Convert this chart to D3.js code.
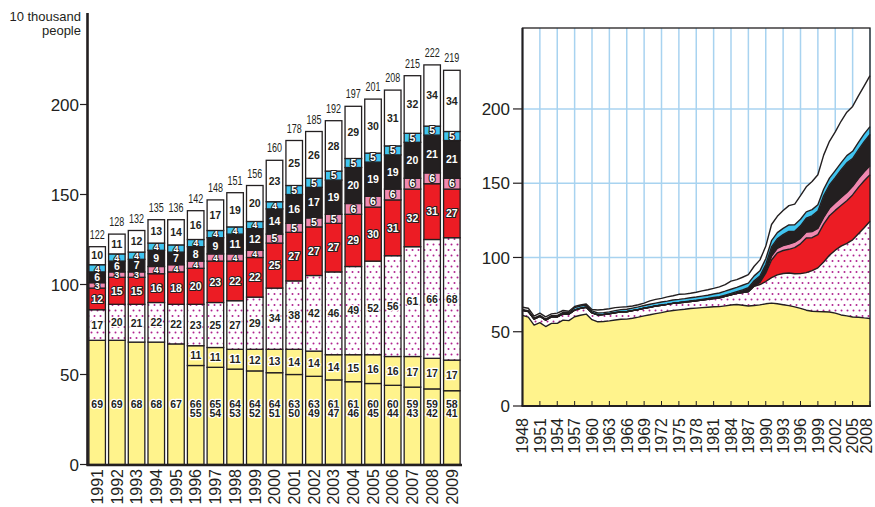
<!DOCTYPE html>
<html><head><meta charset="utf-8">
<script src="https://cdn.jsdelivr.net/npm/d3@7"></script>
<style>body{margin:0;background:#fff}svg{display:block}</style>
</head><body>
<svg id="c" width="875" height="507"></svg>
<script>
// ---------- Left chart data (10 thousand people) ----------
const barYears = [1991,1992,1993,1994,1995,1996,1997,1998,1999,2000,2001,2002,2003,2004,2005,2006,2007,2008,2009];
const korLower = [69,69,68,68,67,55,54,53,52,51,50,49,47,46,45,44,43,42,41];
const korUpper = [0,0,0,0,0,11,11,11,12,13,14,14,14,15,16,16,17,17,17];
const korTotal = [69,69,68,68,67,66,65,64,64,64,63,63,61,61,60,60,59,59,58];
const chn = [17,20,21,22,22,23,25,27,29,34,38,42,46,49,52,56,61,66,68];
const bra = [12,15,15,16,18,20,23,22,22,25,27,27,27,29,30,31,32,31,27];
const per = [3,3,3,4,4,4,4,4,4,5,5,5,5,6,6,6,6,6,6];
const phl = [6,6,7,9,7,8,9,11,12,14,16,17,19,20,19,19,20,21,21];
const usa = [4,4,4,4,4,4,4,4,4,4,5,5,5,5,5,5,5,5,5];
const oth = [10,11,12,13,14,16,17,19,20,23,25,26,28,29,30,31,32,34,34];
const totalLabels = [122,128,132,135,136,142,148,151,156,160,178,185,192,197,201,208,215,222,219];
const yTicksL = [0,50,100,150,200];

// ---------- Right chart data (10 thousand people) ----------
const yearsR = [1948,1949,1950,1951,1952,1953,1954,1955,1956,1957,1958,1959,1960,1961,1962,1963,1964,1965,1966,1967,1968,1969,1970,1971,1972,1973,1974,1975,1976,1977,1978,1979,1980,1981,1982,1983,1984,1985,1986,1987,1988,1989,1990,1991,1992,1993,1994,1995,1996,1997,1998,1999,2000,2001,2002,2003,2004,2005,2006,2007,2008];
const koreaR = [61.0,59.8,54.5,56.1,53.5,55.6,55.6,57.8,57.5,60.1,61.1,61.9,58.1,56.7,56.9,57.3,57.9,58.4,58.5,59.1,59.8,60.7,61.4,62.2,62.9,63.7,64.3,64.7,65.1,65.6,65.9,66.2,66.5,66.8,66.9,67.4,68.0,68.3,67.8,67.3,67.7,68.1,68.8,69.3,68.8,68.2,67.6,66.7,65.7,64.5,63.8,63.6,63.5,63.3,62.5,61.3,60.7,59.9,59.8,59.3,58.9];
const chinaR = [3.5,3.8,4.0,4.3,4.3,4.4,4.4,4.3,4.4,4.5,4.6,4.6,4.6,4.6,4.7,4.8,4.9,5.0,5.0,5.1,5.1,5.1,5.1,5.1,4.9,4.7,4.8,4.8,4.8,4.8,4.9,5.1,5.3,5.6,5.9,6.4,6.8,7.5,8.5,9.6,12.9,13.7,15.0,17.1,19.5,21.0,21.9,22.3,23.4,25.3,27.3,29.4,33.5,38.2,42.4,46.3,48.8,52.0,56.1,60.7,65.5];
const brazilR = [0,0,0,0,0,0,0,0,0,0,0,0,0,0,0,0,0,0,0,0,0,0,0,0,0,0,0,0,0,0,0,0,0,0,0,0,0,0,0,0.2,0.4,1.4,5.6,11.9,14.8,15.5,16.0,17.6,20.1,23.3,22.2,22.4,25.4,26.6,26.8,27.4,28.7,30.2,31.3,31.7,31.3];
const peruR = [0,0,0,0,0,0,0,0,0,0,0,0,0,0,0,0,0,0,0,0,0,0,0,0,0,0,0,0,0,0,0,0,0,0,0,0,0,0,0,0,0.1,0.4,1.0,2.6,3.1,3.3,3.5,3.7,3.7,4.0,4.1,4.2,4.6,5.0,5.1,5.4,5.6,5.8,5.9,6.0,6.0];
const philR = [0.1,0.1,0.1,0.1,0.1,0.1,0.1,0.1,0.1,0.1,0.1,0.1,0.1,0.1,0.1,0.1,0.1,0.1,0.1,0.1,0.1,0.1,0.1,0.1,0.2,0.2,0.2,0.2,0.3,0.3,0.4,0.5,0.6,0.7,0.8,0.9,1.0,1.2,1.9,2.5,3.2,3.9,4.9,6.2,6.3,7.4,8.6,7.4,8.4,9.3,10.6,11.6,14.5,15.7,16.9,18.5,19.9,18.7,19.3,20.3,21.1];
const usaR = [0.3,0.4,0.5,0.6,0.6,0.7,0.8,0.9,1.0,1.5,1.5,1.3,1.2,1.2,1.2,1.2,1.3,1.4,1.5,1.6,1.7,1.8,1.9,1.9,2.0,2.0,2.1,2.1,2.1,2.2,2.2,2.2,2.2,2.3,2.5,2.6,2.8,2.9,3.1,3.1,3.3,3.5,3.8,4.2,4.2,4.2,4.3,4.3,4.4,4.3,4.2,4.3,4.4,4.6,4.8,4.8,4.9,4.9,5.1,5.2,5.3];
const otherR = [1.6,1.7,1.4,1.4,1.5,1.2,1.6,1.2,0.8,0.8,0.7,0.8,1.0,2.0,2.1,2.1,2.0,1.7,1.7,1.4,1.5,1.6,2.3,2.5,2.5,2.9,2.8,3.4,3.0,3.0,3.2,3.5,3.7,3.8,4.1,4.4,5.5,5.2,5.4,5.7,6.5,7.4,8.4,10.9,11.0,12.0,13.0,13.9,15.9,16.9,19.0,20.2,23.0,24.8,26.1,28.0,29.2,30.2,31.3,32.3,34.3];
const xTicksR = [1948,1951,1954,1957,1960,1963,1966,1969,1972,1975,1978,1981,1984,1987,1990,1993,1996,1999,2002,2005,2008];
const yTicksR = [0,50,100,150,200];

// ---------- styles ----------
const INK = "#231f20";
const fills = {
  korLower:"#fff38c", korUpper:"#fff38c", kor:"#fff38c",
  chn:"url(#dots)", bra:"#ec1c24", per:"#f088b0", phl:"#231f20", usa:"#40c4f0", oth:"#ffffff"
};
const darkKeys = new Set(["bra","per","phl","usa"]);
const FONT = "'Liberation Sans', Arial, Helvetica, sans-serif";

const svg = d3.select("#c");
const defs = svg.append("defs");
const pat = defs.append("pattern").attr("id","dots").attr("width",6).attr("height",11)
  .attr("patternUnits","userSpaceOnUse");
pat.append("rect").attr("width",6).attr("height",11).attr("fill","#fff");
pat.append("circle").attr("cx",1.5).attr("cy",2.5).attr("r",1).attr("fill","#b0238f");
pat.append("circle").attr("cx",4.5).attr("cy",8).attr("r",1).attr("fill","#b0238f");

// ================= LEFT CHART =================
const xL = d3.scaleBand().domain(barYears).range([87.5, 461.5]).paddingInner(0.16).paddingOuter(0.07);
const yL = d3.scaleLinear().domain([0, 250]).range([464.5, 14.5]);

const rowsL = barYears.map((yr,i)=>({year:yr, korLower:korLower[i], korUpper:korUpper[i], chn:chn[i], bra:bra[i], per:per[i], phl:phl[i], usa:usa[i], oth:oth[i], i}));
const keysL = ["korLower","korUpper","chn","bra","per","phl","usa","oth"];
const stackL = d3.stack().keys(keysL)(rowsL);

const gL = svg.append("g");
stackL.forEach(layer=>{
  gL.selectAll(null).data(layer.filter(d=>d[1]-d[0]>0)).join("rect")
    .attr("x", d=>xL(d.data.year)).attr("width", xL.bandwidth())
    .attr("y", d=>yL(d[1])).attr("height", d=>yL(d[0])-yL(d[1]))
    .attr("fill", fills[layer.key]).attr("stroke", INK).attr("stroke-width", 1.3);
});

// segment labels
const gLab = svg.append("g").attr("font-family", FONT).attr("font-weight", 700)
  .attr("text-anchor","middle");
function segText(x, y, txt, dark, halo, size){
  const t = gLab.append("text").attr("x", x).attr("y", y).attr("dy","0.36em").text(txt)
    .attr("font-size", size || 10.5)
    .style("paint-order","stroke").attr("stroke-linejoin","round");
  if (dark) t.attr("fill","#fff").attr("stroke",INK).attr("stroke-width",2.2);
  else if (halo) t.attr("fill",INK).attr("stroke","#fff").attr("stroke-width",2.4);
  else t.attr("fill",INK);
}
stackL.forEach(layer=>{
  layer.forEach(d=>{
    const cx = xL(d.data.year) + xL.bandwidth()/2;
    const i = d.data.i;
    if (layer.key === "korLower") {
      segText(cx, yL(33.6), korTotal[i], false, true);
      if (korUpper[i] > 0) segText(cx, yL(28.6), korLower[i], false, true);
    } else if (d[1]-d[0] > 0) {
      const v = d.data[layer.key];
      const h = yL(d[0]) - yL(d[1]);
      segText(cx, yL((d[0]+d[1])/2), v, darkKeys.has(layer.key), layer.key !== "oth", h < 8 ? 9 : 10.5);
    }
  });
});

// totals above bars (condensed)
const topLayer = stackL[stackL.length-1];
svg.append("g").attr("font-family", FONT).attr("font-size", 12.5).attr("fill", INK).attr("text-anchor","middle")
  .selectAll("text").data(topLayer).join("text")
  .attr("x", d=>xL(d.data.year)+xL.bandwidth()/2).attr("y", d=>yL(d[1])-8)
  .attr("textLength", 15).attr("lengthAdjust","spacingAndGlyphs")
  .text(d=>totalLabels[d.data.i]);

// axes
svg.append("line").attr("x1",87.5).attr("x2",87.5).attr("y1",13).attr("y2",465.5).attr("stroke",INK).attr("stroke-width",2.6);
svg.append("line").attr("x1",86.5).attr("x2",462).attr("y1",465).attr("y2",465).attr("stroke",INK).attr("stroke-width",2.4);
const gYL = svg.append("g");
yTicksL.forEach(v=>{
  gYL.append("line").attr("x1",80).attr("x2",87).attr("y1",yL(v)).attr("y2",yL(v)).attr("stroke",INK).attr("stroke-width",1.2);
  gYL.append("text").attr("x",79).attr("y",yL(v)).attr("dy","0.36em").attr("text-anchor","end")
    .attr("font-family",FONT).attr("font-size",17).attr("fill",INK).text(v);
});
svg.append("text").attr("x",81).attr("y",21).attr("text-anchor","end").attr("font-family",FONT).attr("font-size",13).attr("fill",INK).text("10 thousand");
svg.append("text").attr("x",81).attr("y",35).attr("text-anchor","end").attr("font-family",FONT).attr("font-size",13).attr("fill",INK).text("people");
svg.append("g").attr("font-family",FONT).attr("font-size",16).attr("fill",INK)
  .selectAll("text").data(barYears).join("text")
  .attr("transform", d=>`translate(${xL(d)+xL.bandwidth()/2},469) rotate(-90)`)
  .attr("text-anchor","end").attr("dy","0.36em").text(d=>d);

// ================= RIGHT CHART =================
const xR = d3.scaleLinear().domain([1948, 2008]).range([522.5, 870]);
const yR = d3.scaleLinear().domain([0, 254.5]).range([406, 28]);
const gR = svg.append("g");
gR.append("rect").attr("x",522.5).attr("y",28).attr("width",870-522.5).attr("height",406-28).attr("fill","#fff");
// grid
xTicksR.forEach(t=>{
  gR.append("line").attr("x1",xR(t)).attr("x2",xR(t)).attr("y1",28).attr("y2",406).attr("stroke","#a8d3f0").attr("stroke-width",1.5);
});
yTicksR.filter(v=>v>0).forEach(v=>{
  gR.append("line").attr("x1",522.5).attr("x2",870).attr("y1",yR(v)).attr("y2",yR(v)).attr("stroke","#a8d3f0").attr("stroke-width",1.5);
});
const rowsR = yearsR.map((yr,i)=>({year:yr, kor:koreaR[i], chn:chinaR[i], bra:brazilR[i], per:peruR[i], phl:philR[i], usa:usaR[i], oth:otherR[i]}));
const keysR = ["kor","chn","bra","per","phl","usa","oth"];
const stackR = d3.stack().keys(keysR)(rowsR);
const area = d3.area().x(d=>xR(d.data.year)).y0(d=>yR(d[0])).y1(d=>yR(d[1]));
const topLine = d3.line().x(d=>xR(d.data.year)).y(d=>yR(d[1]));
stackR.forEach(layer=>{
  gR.append("path").attr("d", area(layer)).attr("fill", fills[layer.key]).attr("stroke", fills[layer.key]==="url(#dots)"?"none":fills[layer.key]).attr("stroke-width",0.5);
});
stackR.forEach(layer=>{
  gR.append("path").attr("d", topLine(layer)).attr("fill","none").attr("stroke",INK).attr("stroke-width",1.4).attr("stroke-linejoin","round");
});
// frame
gR.append("rect").attr("x",522.5).attr("y",28).attr("width",870-522.5).attr("height",406-28).attr("fill","none").attr("stroke",INK).attr("stroke-width",1.3);
gR.append("line").attr("x1",522.5).attr("x2",522.5).attr("y1",28).attr("y2",406).attr("stroke",INK).attr("stroke-width",2);
gR.append("line").attr("x1",521.5).attr("x2",871).attr("y1",406).attr("y2",406).attr("stroke",INK).attr("stroke-width",2);
// x ticks (inside) + labels
xTicksR.forEach(t=>{
  gR.append("line").attr("x1",xR(t)).attr("x2",xR(t)).attr("y1",401).attr("y2",406).attr("stroke",INK).attr("stroke-width",1);
});
gR.append("g").attr("font-family",FONT).attr("font-size",16).attr("fill",INK)
  .selectAll("text").data(xTicksR).join("text")
  .attr("transform", d=>`translate(${Math.min(xR(d), 866)},418) rotate(-90)`)
  .attr("text-anchor","end").attr("dy","0.36em").text(d=>d);
// y ticks + labels
yTicksR.forEach(v=>{
  gR.append("line").attr("x1",513).attr("x2",522).attr("y1",yR(v)).attr("y2",yR(v)).attr("stroke",INK).attr("stroke-width",1.2);
  gR.append("text").attr("x",510).attr("y",yR(v)).attr("dy","0.36em").attr("text-anchor","end")
    .attr("font-family",FONT).attr("font-size",17).attr("fill",INK).text(v);
});
</script>
</body></html>
